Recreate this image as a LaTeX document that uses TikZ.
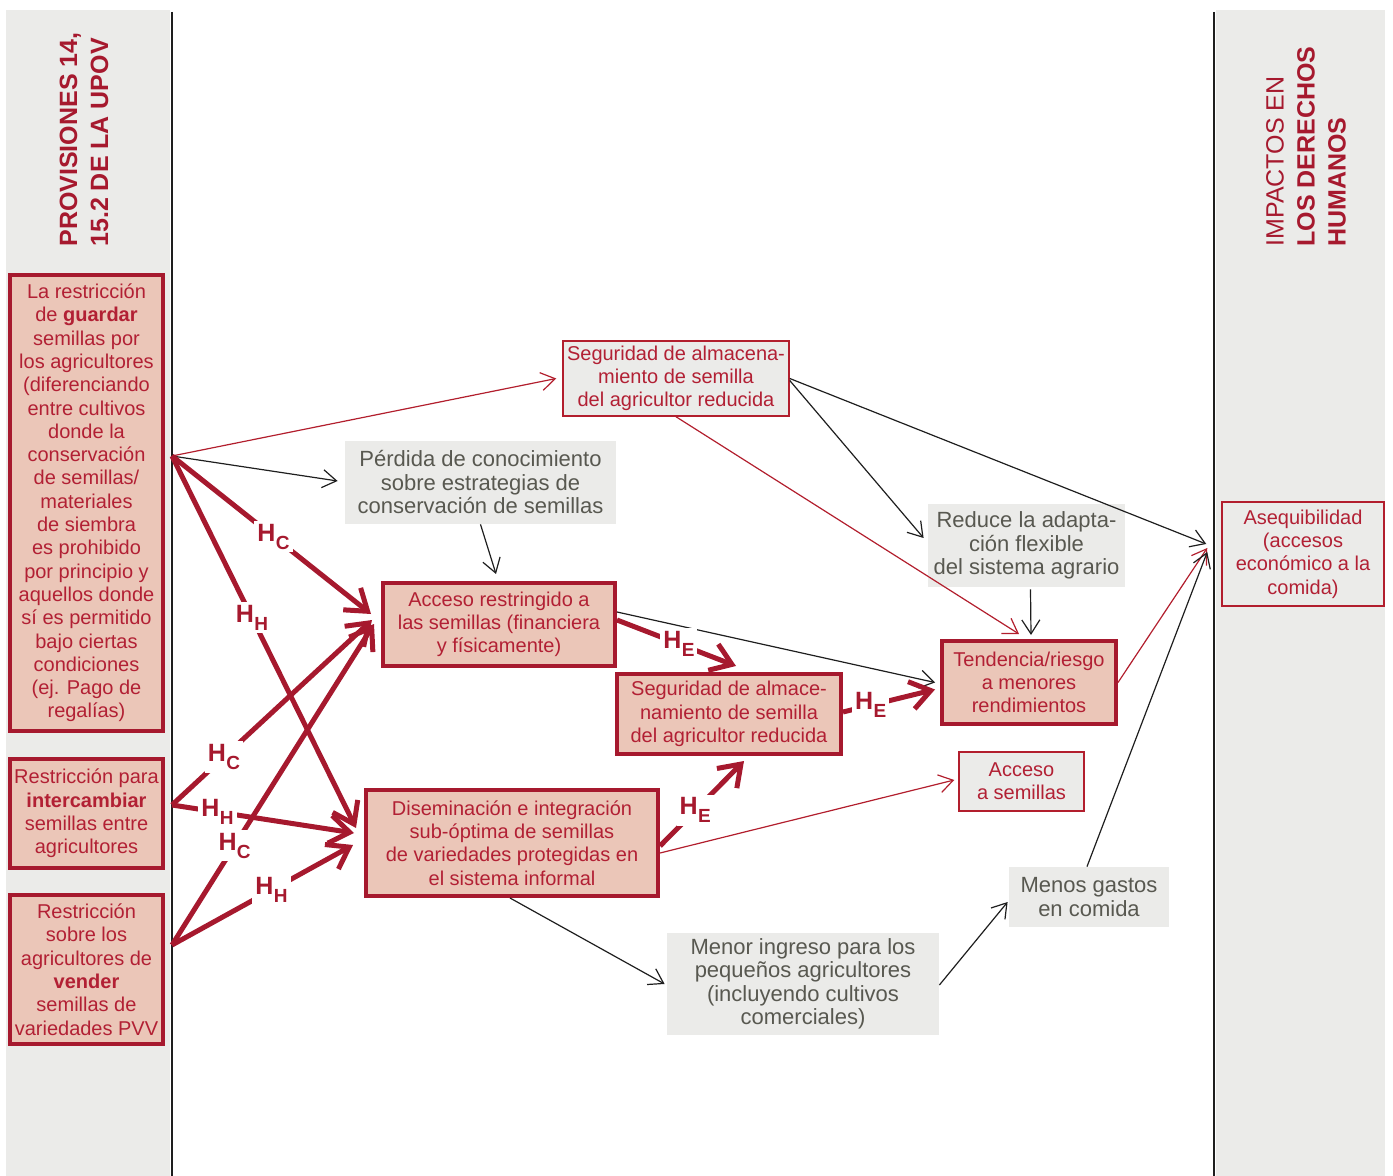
\documentclass[tikz,border=0pt]{standalone}
\usepackage{fontspec}
\setmainfont{Liberation Sans}
\usetikzlibrary{arrows.meta}
\definecolor{dred}{RGB}{166,25,46}
\definecolor{tred}{RGB}{178,32,52}
\definecolor{lred}{RGB}{178,30,45}
\definecolor{pinkf}{RGB}{235,198,184}
\definecolor{grayf}{RGB}{235,235,233}
\definecolor{graytxt}{RGB}{88,88,80}
\definecolor{linek}{RGB}{30,30,30}
\newcommand\hsub[1]{H\kern0.2pt\raisebox{-0.32em}{\fontsize{9.5}{9.5}\selectfont #1}}
\begin{document}
\begin{tikzpicture}[x=0.5pt,y=-0.5pt,
  thickbox/.style={draw=dred, line width=2pt, fill=pinkf, text=tred, align=center, inner sep=0pt,
    font=\fontsize{10}{11.65}\selectfont},
  thinbox/.style={draw=lred, line width=0.75pt, fill=grayf, text=tred, align=center, inner sep=0pt,
    font=\fontsize{10}{11.65}\selectfont},
  graybox/.style={fill=grayf, text=graytxt, align=center, inner sep=0pt,
    font=\fontsize{11}{11.75}\selectfont},
  thinarrow/.style={-{Straight Barb[length=7pt,width=9pt]}, line width=0.6pt},
  blk/.style={thinarrow, draw=linek},
  rdl/.style={thinarrow, draw=lred},
  thickarrow/.style={draw=dred, line width=2.5pt, -{Straight Barb[length=10pt,width=14pt]}},
  hlab/.style={fill=white, text=dred, inner sep=1.5pt, font=\bfseries\fontsize{12.5}{13}\selectfont},
  header/.style={rotate=90, anchor=west, align=left, inner sep=0pt, text=dred,
    font=\fontsize{12.5}{15.5}\selectfont}
]
\useasboundingbox (0,0) rectangle (1393,1176);
% side bands
\fill[grayf] (6,10) rectangle (170,1176);
\fill[grayf] (1216,10) rectangle (1385,1176);
\draw[linek, line width=0.75pt] (172,12) -- (172,1176);
\draw[linek, line width=0.75pt] (1214,12) -- (1214,1176);
% headers
\node[header] (hl) at (84,247) {\bfseries PROVISIONES 14,\\\bfseries 15.2 DE LA UPOV};
\node[header] (hr) at (1306,247) {IMPACTOS EN\\\bfseries LOS DERECHOS\\\bfseries HUMANOS};
% left boxes
\node[thickbox, minimum width=76.5pt, minimum height=228pt] (L1) at (86.5,503) {La restricción\\ de \textbf{guardar}\\ semillas por\\ los agricultores\\ (diferenciando\\ entre cultivos\\ donde la\\ conservación\\ de semillas/\\ materiales\\ de siembra\\ es prohibido\\ por principio y\\ aquellos donde\\ sí es permitido\\ bajo ciertas\\ condiciones\\ (ej. Pago de\\ regalías)};
\node[thickbox, minimum width=76.5pt, minimum height=54.5pt] (L2) at (86.5,813.5) {Restricción para\\ \textbf{intercambiar}\\ semillas entre\\ agricultores};
\node[thickbox, minimum width=76.5pt, minimum height=74.5pt] (L3) at (86.5,969.5) {Restricción\\ sobre los\\ agricultores de\\ \textbf{vender}\\ semillas de\\ variedades PVV};
% middle boxes
\node[thinbox, minimum width=113pt, minimum height=37.5pt] (T1) at (676,378.5) {Seguridad de almacena-\\ miento de semilla\\ del agricultor reducida};
\node[graybox, minimum width=135.5pt, minimum height=41.5pt] (P) at (480.5,482.5) {Pérdida de conocimiento\\ sobre estrategias de\\ conservación de semillas};
\node[thickbox, minimum width=116pt, minimum height=41.5pt] (A) at (499,624.5) {Acceso restringido a\\ las semillas (financiera\\ y físicamente)};
\node[thickbox, minimum width=112pt, minimum height=40pt] (S) at (729,714) {Seguridad de almace-\\ namiento de semilla\\ del agricultor reducida};
\node[thickbox, minimum width=146pt, minimum height=53pt] (D) at (512,843) {Diseminación e integración\\ sub-óptima de semillas\\ de variedades protegidas en\\ el sistema informal};
\node[graybox, minimum width=98.5pt, minimum height=41.5pt] (R) at (1026.5,545.5) {Reduce la adapta-\\ ción flexible\\ del sistema agrario};
\node[thickbox, minimum width=87pt, minimum height=41.5pt] (T) at (1029,682.5) {Tendencia/riesgo\\ a menores\\ rendimientos};
\node[thinbox, minimum width=62.5pt, minimum height=29.5pt] (AS) at (1021.5,781.5) {Acceso\\ a semillas};
\node[graybox, minimum width=80pt, minimum height=30pt] (MG) at (1089,897) {Menos gastos\\ en comida};
\node[graybox, minimum width=136pt, minimum height=51pt] (MI) at (803,984) {Menor ingreso para los\\ pequeños agricultores\\ (incluyendo cultivos\\ comerciales)};
\node[thinbox, minimum width=81pt, minimum height=52pt] (AQ) at (1303,554) {Asequibilidad\\ (accesos\\ económico a la\\ comida)};
% source points on the band edge
\coordinate (s1) at (172,456);
\coordinate (s2) at (172,805);
\coordinate (s3) at (172,945);
% thin connectors
\draw[rdl] (s1) -- ([shift={(-6,0)}]T1.west);
\draw[blk] (s1) -- ([shift={(-7,-1.5)}]P.west);
\draw[blk] (P.south) -- ([shift={(-3,-7)}]A.north);
\draw[blk] (T1.east) -- ([shift={(-15,-10)}]AQ.west);
\draw[blk] ([shift={(0,2)}]T1.east) -- ([shift={(-4,-7.5)}]R.west);
\draw[rdl] (T1.south) -- ([shift={(-10,-5)}]T.north);
\draw[blk] ([shift={(4,2)}]R.south) -- ([shift={(2,-4)}]T.north);
\draw[blk] ([shift={(0,-12.5)}]A.east) -- ([shift={(-5,0)}]T.west);
\draw[rdl] (T.east) -- ([shift={(-14,-6)}]AQ.west);
\draw[rdl] ([shift={(0,10)}]D.east) -- ([shift={(-4,-1.5)}]AS.west);
\draw[blk] ([shift={(-2,0)}]D.south) -- ([shift={(-2,0)}]MI.west);
\draw[blk] ([shift={(0,1)}]MI.east) -- ([shift={(-1,5)}]MG.west);
\draw[blk] ([shift={(-2,0)}]MG.north) -- ([shift={(-14,-2)}]AQ.west);
% thick connectors
\draw[thickarrow] (s1) -- node[hlab, pos=0.51] {\hsub{C}} ([shift={(-10,-10.5)}]A.west);
\draw[thickarrow] (s1) -- node[hlab, pos=0.435] {\hsub{H}} ([shift={(-8,-15)}]D.west);
\draw[thickarrow] (s2) -- node[hlab, pos=0.26] {\hsub{C}} ([shift={(-9,-4.5)}]A.west);
\draw[thickarrow] (s2) -- node[hlab, pos=0.25] {\hsub{H}} ([shift={(-10,-10)}]D.west);
\draw[thickarrow] (s3) -- node[hlab, pos=0.31] {\hsub{C}} ([shift={(-7,-0.5)}]A.west);
\draw[thickarrow] (s3) -- node[hlab, pos=0.55] {\hsub{H}} ([shift={(-11,2)}]D.west);
\draw[thickarrow] ([shift={(0,-4.5)}]A.east) -- node[hlab, pos=0.52] {\hsub{E}} ([shift={(7,-6)}]S.north);
\draw[thickarrow] ([shift={(0,-2)}]S.east) -- node[hlab, pos=0.3] {\hsub{E}} ([shift={(-5,7)}]T.west);
\draw[thickarrow] ([shift={(0,3)}]D.east) -- node[hlab, pos=0.42] {\hsub{E}} ([shift={(15,5)}]S.south);
\end{tikzpicture}
\end{document}
